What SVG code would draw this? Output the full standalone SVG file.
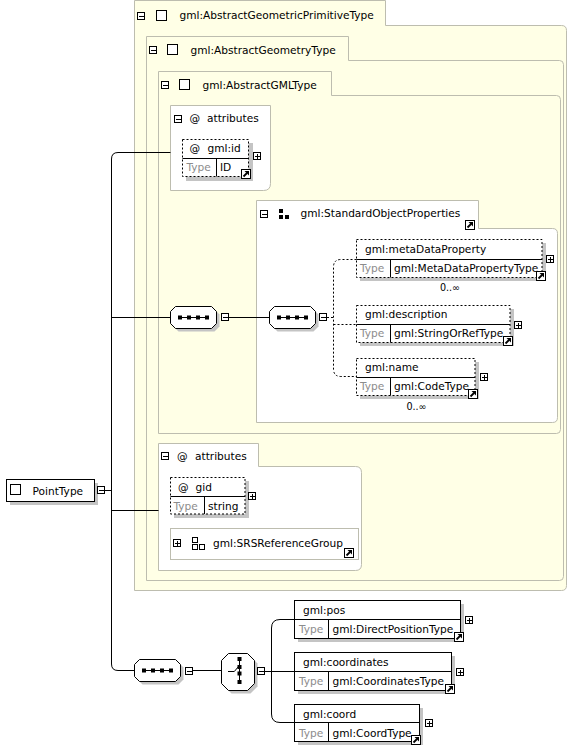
<svg xmlns="http://www.w3.org/2000/svg" xmlns:xlink="http://www.w3.org/1999/xlink" width="569" height="748" viewBox="0 0 569 748">
<style>
.panel{fill:#FFFFE6;stroke:#BDBDAF;stroke-width:1}
.wpanel{fill:#FFFFFF;stroke:#BDBDAF;stroke-width:1}
.t{font-family:"DejaVu Sans",Verdana,sans-serif;font-size:10.6px;fill:#000}
.s{font-size:9.6px}
.g{fill:#8C8C8C}
.box{fill:#fff;stroke:#000;stroke-width:1}
.opt{fill:#fff;stroke:#000;stroke-width:1;stroke-dasharray:2,2}
.sh{fill:#C4C4C4}
.ln{fill:none;stroke:#000;stroke-width:1}
.dln{fill:none;stroke:#000;stroke-width:1;stroke-dasharray:2,2}
</style>
<defs>
<g id="mn"><rect x="0.5" y="0.5" width="7" height="7" fill="#fff" stroke="#000"/><path d="M2,4.5H7" stroke="#000"/></g>
<g id="pl"><rect x="0.5" y="0.5" width="7" height="7" fill="#fff" stroke="#000"/><path d="M2,4.5H7M4.5,2V7" stroke="#000"/></g>
<g id="ref"><rect x="0.5" y="0.5" width="9" height="9" fill="#fff" stroke="#000"/><path d="M2.5,7.5L6,4" stroke="#000" stroke-width="1.8"/><path d="M3.5,2H8V6.5Z" fill="#000"/></g>
<g id="ck"><rect x="0.5" y="0.5" width="10" height="10" fill="#fff" stroke="#000"/></g>
<g id="seq">
<path d="M8.5,3.5H44.5L49.5,8.5V20.5L44.5,25.5H8.5L3.5,20.5V8.5Z" fill="#C4C4C4"/>
<path d="M5.5,0.5H41.5L46.5,5.5V17.5L41.5,22.5H5.5L0.5,17.5V5.5Z" class="box"/>
<path d="M9,11.5H39" stroke="#000"/>
<rect x="8" y="9.5" width="4" height="4" fill="#000"/><rect x="17" y="9.5" width="4" height="4" fill="#000"/><rect x="26" y="9.5" width="4" height="4" fill="#000"/><rect x="35" y="9.5" width="4" height="4" fill="#000"/>
</g>
</defs>

<g id="type-AbstractGeometricPrimitiveType">
<path class="panel" d="M134.5,0.5H385.5V25.5H561.5Q566.5,25.5 566.5,30.5V585.5Q566.5,590.5 561.5,590.5H134.5Z"/>
<use xlink:href="#mn" x="137" y="12"/>
<use xlink:href="#ck" x="156" y="10"/>
<text class="t" x="179.5" y="18.5">gml:AbstractGeometricPrimitiveType</text>
</g>

<g id="type-AbstractGeometryType">
<path class="panel" d="M146.5,36.5H348.5V60.5H559.5Q563.5,60.5 563.5,64.5V576.5Q563.5,580.5 559.5,580.5H146.5Z"/>
<use xlink:href="#mn" x="149" y="46"/>
<use xlink:href="#ck" x="167" y="44"/>
<text class="t" x="190.5" y="53.5">gml:AbstractGeometryType</text>
</g>

<g id="type-AbstractGMLType">
<path class="panel" d="M158.5,71.5H331.5V95.5H556.5Q560.5,95.5 560.5,99.5V429.5Q560.5,433.5 556.5,433.5H158.5Z"/>
<use xlink:href="#mn" x="161" y="81"/>
<use xlink:href="#ck" x="179" y="79"/>
<text class="t" x="202.5" y="88.5">gml:AbstractGMLType</text>
</g>

<g id="attributes-1">
<path class="wpanel" d="M170.5,105.5H270.5V183.5Q270.5,190.5 263.5,190.5H170.5Z"/>
<use xlink:href="#mn" x="174" y="115"/>
<text class="t" x="189.5" y="122">@</text>
<text class="t" x="207" y="122">attributes</text>
</g>

<g id="attr-gml-id">
<rect class="sh" x="186" y="143" width="67" height="38"/>
<rect class="opt" x="182.5" y="139.5" width="66" height="37"/>
<path class="ln" d="M182.5,158.5H248.5M216.5,158.5V176.5"/>
<text class="t" x="189.5" y="152">@</text>
<text class="t" x="207.5" y="152">gml:id</text>
<text class="t g" x="186.5" y="171">Type</text>
<text class="t" x="220" y="171">ID</text>
<use xlink:href="#pl" x="253" y="152"/>
<use xlink:href="#ref" x="241" y="169"/>
</g>

<g id="group-StandardObjectProperties">
<path class="wpanel" d="M256.5,200.5H478.5V228.5H552.5Q557.5,228.5 557.5,233.5V417.5Q557.5,422.5 552.5,422.5H256.5Z"/>
<use xlink:href="#mn" x="260" y="210"/>
<rect x="279" y="209" width="4" height="4" fill="#000"/>
<rect x="279" y="215" width="4" height="4" fill="#000"/>
<rect x="285" y="215" width="4" height="4" fill="#000"/>
<text class="t" x="300.5" y="217">gml:StandardObjectProperties</text>
<use xlink:href="#ref" x="465" y="220"/>
</g>

<g id="seq-1"><use xlink:href="#seq" x="170" y="306"/><use xlink:href="#mn" x="221" y="313"/></g>
<g id="seq-2"><use xlink:href="#seq" x="269" y="306"/><use xlink:href="#mn" x="319" y="313"/></g>

<g id="el-metaDataProperty">
<rect class="sh" x="360" y="243" width="186" height="38"/>
<rect class="opt" x="356.5" y="239.5" width="185.5" height="38"/>
<path class="ln" d="M356.5,259.5H542M390.5,259.5V277.5"/>
<text class="t" x="365" y="252.5">gml:metaDataProperty</text>
<text class="t g" x="360" y="272">Type</text>
<text class="t" x="394" y="272">gml:MetaDataPropertyType</text>
<use xlink:href="#pl" x="546" y="255"/>
<use xlink:href="#ref" x="536" y="271"/>
<text class="t s" x="450" y="291" text-anchor="middle">0..∞</text>
</g>

<g id="el-description">
<rect class="sh" x="360" y="309" width="154" height="37"/>
<rect class="opt" x="356.5" y="305.5" width="153.5" height="37"/>
<path class="ln" d="M356.5,324.5H510M390.5,324.5V342.5"/>
<text class="t" x="365" y="318">gml:description</text>
<text class="t g" x="360" y="337">Type</text>
<text class="t" x="394" y="337">gml:StringOrRefType</text>
<use xlink:href="#pl" x="514" y="321"/>
<use xlink:href="#ref" x="503" y="336"/>
</g>

<g id="el-name">
<rect class="sh" x="360" y="362" width="119" height="37"/>
<rect class="opt" x="356.5" y="358.5" width="118.5" height="37"/>
<path class="ln" d="M356.5,377.5H475M390.5,377.5V395.5"/>
<text class="t" x="365" y="371">gml:name</text>
<text class="t g" x="360" y="390">Type</text>
<text class="t" x="394" y="390">gml:CodeType</text>
<use xlink:href="#pl" x="480" y="373"/>
<use xlink:href="#ref" x="468" y="389"/>
<text class="t s" x="416.5" y="409.5" text-anchor="middle">0..∞</text>
</g>

<g id="attributes-2">
<path class="wpanel" d="M158.5,443.5H258.5V466.5H355.5Q361.5,466.5 361.5,472.5V564.5Q361.5,570.5 355.5,570.5H158.5Z"/>
<use xlink:href="#mn" x="161" y="452"/>
<text class="t" x="177" y="459.5">@</text>
<text class="t" x="195" y="459.5">attributes</text>
</g>

<g id="attr-gid">
<rect class="sh" x="174" y="481" width="75" height="37"/>
<rect class="opt" x="170.5" y="477.5" width="74.5" height="36.5"/>
<path class="ln" d="M170.5,496.5H245M204.5,496.5V514"/>
<text class="t" x="178" y="490.5">@</text>
<text class="t" x="195.5" y="490.5">gid</text>
<text class="t g" x="173.5" y="509.5">Type</text>
<text class="t" x="208" y="509.5">string</text>
<use xlink:href="#pl" x="248" y="492"/>
</g>

<g id="attrgroup-SRSReferenceGroup">
<rect class="wpanel" x="170.5" y="528.5" width="188" height="31"/>
<use xlink:href="#pl" x="173" y="539"/>
<rect x="192.5" y="537.5" width="5" height="5" fill="none" stroke="#000"/>
<rect x="192.5" y="544.5" width="5" height="5" fill="none" stroke="#000"/>
<rect x="199.5" y="544.5" width="5" height="5" fill="none" stroke="#000"/>
<text class="t" x="213" y="547">gml:SRSReferenceGroup</text>
<use xlink:href="#ref" x="344" y="548"/>
</g>

<g id="type-PointType">
<rect class="sh" x="10" y="483" width="88" height="22"/>
<rect class="box" x="6.5" y="479.5" width="88" height="22"/>
<use xlink:href="#ck" x="10" y="484"/>
<text class="t" x="32.5" y="494.5">PointType</text>
<use xlink:href="#mn" x="97" y="486"/>
</g>

<g id="seq-3"><use xlink:href="#seq" x="134" y="659"/><use xlink:href="#mn" x="185" y="667"/></g>

<g id="choice-1">
<path d="M10.5,3.5H29.5L36.5,10.5V33.5L29.5,40.5H10.5L3.5,33.5V10.5Z" fill="#C4C4C4" transform="translate(221,653)"/>
<path class="box" d="M7.5,0.5H26.5L33.5,7.5V30.5L26.5,37.5H7.5L0.5,30.5V7.5Z" transform="translate(221,653)"/>
<g transform="translate(221,653)">
<path d="M18.5,5V30M7,18.5H13.3L17.5,13.5" stroke="#000" fill="none"/>
<rect x="16.5" y="4" width="4" height="4" fill="#000"/>
<rect x="16.5" y="12" width="4" height="4" fill="#000"/>
<rect x="16.5" y="18.5" width="4" height="4" fill="#000"/>
<rect x="16.5" y="27" width="4" height="4" fill="#000"/>
</g>
<use xlink:href="#mn" x="257" y="667"/>
</g>

<g id="el-pos">
<rect class="sh" x="298" y="604" width="166" height="38"/>
<rect class="box" x="294.5" y="600.5" width="166" height="38"/>
<path class="ln" d="M294.5,619.5H460.5M328.5,619.5V638.5"/>
<text class="t" x="303" y="613.5">gml:pos</text>
<text class="t g" x="299" y="633">Type</text>
<text class="t" x="332.5" y="633">gml:DirectPositionType</text>
<use xlink:href="#pl" x="465" y="616"/>
<use xlink:href="#ref" x="454" y="632"/>
</g>

<g id="el-coordinates">
<rect class="sh" x="298" y="656" width="157" height="38"/>
<rect class="box" x="294.5" y="652.5" width="157" height="38"/>
<path class="ln" d="M294.5,671.5H451.5M328.5,671.5V690.5"/>
<text class="t" x="303" y="665.5">gml:coordinates</text>
<text class="t g" x="299" y="685">Type</text>
<text class="t" x="332.5" y="685">gml:CoordinatesType</text>
<use xlink:href="#pl" x="456" y="668"/>
<use xlink:href="#ref" x="445" y="684"/>
</g>

<g id="el-coord">
<rect class="sh" x="298" y="708" width="125" height="37"/>
<rect class="box" x="294.5" y="704.5" width="125" height="37"/>
<path class="ln" d="M294.5,722.5H419.5M328.5,722.5V741.5"/>
<text class="t" x="303" y="717.5">gml:coord</text>
<text class="t g" x="299" y="736.5">Type</text>
<text class="t" x="332.5" y="736.5">gml:CoordType</text>
<use xlink:href="#pl" x="425" y="719"/>
<use xlink:href="#ref" x="411" y="735"/>
</g>

<g id="connectors">
<path class="ln" d="M105,490.5H111.5"/>
<path class="ln" d="M170.5,152.5H118Q111.5,152.5 111.5,159V664Q111.5,670.5 118,670.5H134"/>
<path class="ln" d="M111.5,317.5H170"/>
<path class="ln" d="M111.5,510.5H158.5"/>
<path class="ln" d="M229,317.5H269"/>
<path class="dln" d="M327,317.5H333.5"/>
<path class="dln" d="M356.5,259.5H341Q333.5,259.5 333.5,267V369Q333.5,376.5 341,376.5H356.5"/>
<path class="dln" d="M333.5,324.5H356.5"/>
<path class="ln" d="M193,670.5H221"/>
<path class="ln" d="M265,671.5H294.5"/>
<path class="ln" d="M294.5,619.5H280Q271.5,619.5 271.5,628V714Q271.5,722.5 280,722.5H294.5"/>
</g>
</svg>
